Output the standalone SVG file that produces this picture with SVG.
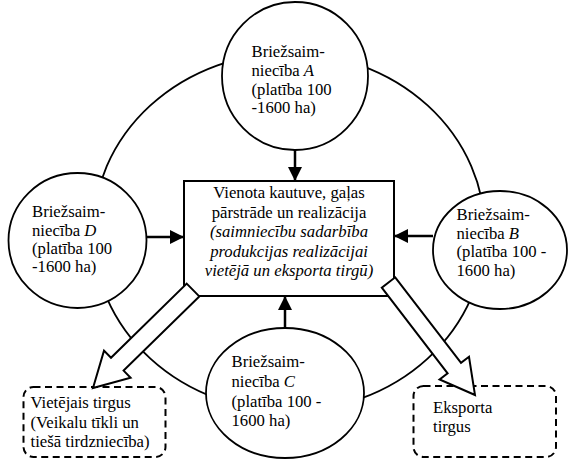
<svg xmlns="http://www.w3.org/2000/svg" width="569" height="459" viewBox="0 0 569 459">
  <style>
    .ring { fill: none; stroke: #000; stroke-width: 1.8; }
    .farm { fill: #fff; stroke: #000; stroke-width: 1.8; }
    .core { fill: #fff; stroke: #000; stroke-width: 2; }
    .market { fill: none; stroke: #000; stroke-width: 2; stroke-dasharray: 7 4.5; }
    .flow { fill: #fff; stroke: #000; stroke-width: 2; stroke-linejoin: miter; }
    .link { stroke: #000; stroke-width: 2.5; fill: none; marker-end: url(#head); }
    .c { text-anchor: middle; }
    .i { font-style: italic; }
  </style>
  <defs>
    <marker id="head" viewBox="0 0 10 10" refX="10" refY="5" markerWidth="5.6" markerHeight="5.6" markerUnits="strokeWidth" orient="auto">
      <path d="M0,0 L10,5 L0,10 Z" fill="#000"/>
    </marker>
  </defs>

  <!-- cooperation ring linking the farms -->
  <ellipse class="ring" cx="289" cy="232" rx="196" ry="179"/>

  <g font-family="'Liberation Serif', 'Times New Roman', serif" font-size="16.7" fill="#000">
    <!-- central processing box -->
    <g id="kautuve">
      <rect class="core" x="184" y="181" width="210" height="115"/>
      <text class="c" x="289" y="198">Vienota kautuve, gaļas</text>
      <text class="c" x="289" y="217.5">pārstrāde un realizācija</text>
      <text class="c i" x="289" y="237">(saimniecību sadarbība</text>
      <text class="c i" x="289" y="256.5">produkcijas realizācijai</text>
      <text class="c i" x="289" y="275.5">vietējā un eksporta tirgū)</text>
    </g>

    <g id="farmA">
      <ellipse class="farm" cx="295" cy="76" rx="73" ry="74"/>
      <text x="251.5" y="57">Briežsaim-</text>
      <text x="251.5" y="76">niecība <tspan class="i">A</tspan></text>
      <text x="251.5" y="95">(platība 100</text>
      <text x="251.5" y="113">-1600 ha)</text>
    </g>

    <g id="farmB">
      <ellipse class="farm" cx="500" cy="250" rx="67" ry="59"/>
      <text x="456.5" y="220">Briežsaim-</text>
      <text x="456.5" y="238.5">niecība <tspan class="i">B</tspan></text>
      <text x="456.5" y="257">(platība 100 -</text>
      <text x="456.5" y="275.5">1600 ha)</text>
    </g>

    <g id="farmC">
      <ellipse class="farm" cx="285" cy="393" rx="79" ry="65"/>
      <text x="231.5" y="367">Briežsaim-</text>
      <text x="231.5" y="387">niecība <tspan class="i">C</tspan></text>
      <text x="231.5" y="407">(platība 100 -</text>
      <text x="231.5" y="426">1600 ha)</text>
    </g>

    <g id="farmD">
      <ellipse class="farm" cx="77.5" cy="240.5" rx="69" ry="67.5"/>
      <text x="32" y="217">Briežsaim-</text>
      <text x="32" y="235.5">niecība <tspan class="i">D</tspan></text>
      <text x="32" y="254">(platība 100</text>
      <text x="32" y="272">-1600 ha)</text>
    </g>

    <g id="localMarket">
      <rect class="market" x="23.5" y="387" width="142" height="70" rx="10" ry="10"/>
      <text x="30.5" y="408">Vietējais tirgus</text>
      <text x="30.5" y="428">(Veikalu tīkli un</text>
      <text x="30.5" y="447">tiešā tirdzniecība)</text>
    </g>

    <g id="exportMarket">
      <rect class="market" x="413.5" y="386" width="142.5" height="71" rx="10" ry="10"/>
      <text x="433" y="413">Eksporta</text>
      <text x="433" y="432">tirgus</text>
    </g>
  </g>

  <!-- supply links and sales flows -->
  <g id="connectors">
    <line class="link" x1="295" y1="150" x2="295" y2="181"/>
    <line class="link" x1="146.5" y1="237" x2="184" y2="237"/>
    <line class="link" x1="433" y1="236" x2="394" y2="236"/>
    <line class="link" x1="285" y1="328" x2="285" y2="296"/>
    <polygon class="flow" points="186.7,283.6 199.3,296.4 123.6,370.6 130.6,377.8 93,388 104,350.6 111,357.8"/>
    <polygon class="flow" points="395.2,277.3 461,362.9 469,356.8 475,395 439.6,379.4 447.6,373.3 381.8,287.7"/>
  </g>
</svg>
